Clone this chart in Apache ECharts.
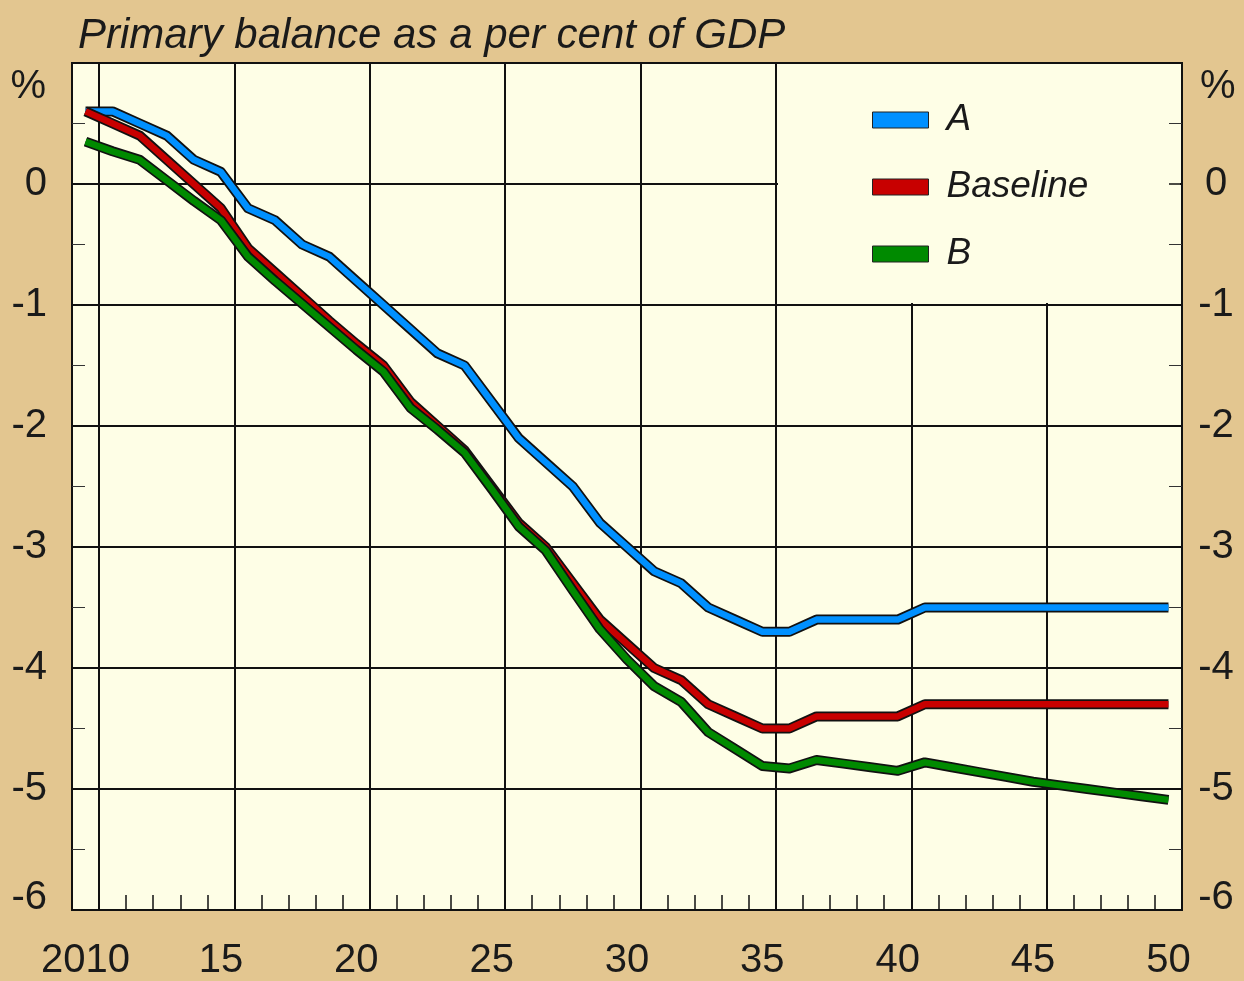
<!DOCTYPE html>
<html>
<head>
<meta charset="utf-8">
<script src="https://cdn.jsdelivr.net/npm/echarts@6/dist/echarts.min.js"></script>
<style>
  html, body { margin: 0; padding: 0; background: #e3c690; }
  #main { width: 1244px; height: 981px; }
</style>
</head>
<body>
<div id="main"></div>
<script>
let years = [2010, 2011, 2012, 2013, 2014, 2015, 2016, 2017, 2018, 2019,
             2020, 2021, 2022, 2023, 2024, 2025, 2026, 2027, 2028, 2029,
             2030, 2031, 2032, 2033, 2034, 2035, 2036, 2037, 2038, 2039,
             2040, 2041, 2042, 2043, 2044, 2045, 2046, 2047, 2048, 2049, 2050];

let seriesA = [0.6, 0.6, 0.5, 0.4, 0.2, 0.1, -0.2, -0.3, -0.5, -0.6,
               -0.8, -1.0, -1.2, -1.4, -1.5, -1.8, -2.1, -2.3, -2.5, -2.8,
               -3.0, -3.2, -3.3, -3.5, -3.6, -3.7, -3.7, -3.6, -3.6, -3.6,
               -3.6, -3.5, -3.5, -3.5, -3.5, -3.5, -3.5, -3.5, -3.5, -3.5, -3.5];

let seriesBaseline = [0.6, 0.5, 0.4, 0.2, 0.0, -0.2, -0.53, -0.73, -0.93, -1.13,
                      -1.32, -1.5, -1.8, -2.0, -2.2, -2.5, -2.8, -3.0, -3.3, -3.6,
                      -3.8, -4.0, -4.1, -4.3, -4.4, -4.5, -4.5, -4.4, -4.4, -4.4,
                      -4.4, -4.3, -4.3, -4.3, -4.3, -4.3, -4.3, -4.3, -4.3, -4.3, -4.3];

let seriesB = [0.35, 0.27, 0.2, 0.03, -0.14, -0.3, -0.6, -0.8, -0.99, -1.18,
               -1.37, -1.55, -1.85, -2.03, -2.22, -2.52, -2.83, -3.03, -3.36, -3.68,
               -3.93, -4.15, -4.28, -4.53, -4.67, -4.81, -4.83, -4.76, -4.79, -4.82,
               -4.85, -4.78, -4.82, -4.86, -4.9, -4.94, -4.97, -5.0, -5.03, -5.06, -5.09];

let yTicks = [-6, -5, -4, -3, -2, -1, 0, 1];

let font = "'Liberation Sans', Arial, sans-serif";
let ink = '#1a1a1a';
let cream = '#fefee6';

let lines = [
  { name: 'A', data: seriesA, color: '#0090ff' },
  { name: 'Baseline', data: seriesBaseline, color: '#c80000' },
  { name: 'B', data: seriesB, color: '#008a00' }
];

function buildSeries() {
  let out = [];
  lines.forEach(item => {
    // black outline under each coloured line
    out.push({
      name: item.name + ' outline',
      type: 'line',
      data: item.data,
      symbol: 'none',
      silent: true,
      z: 3,
      lineStyle: { color: '#111', width: 10, join: 'round' }
    });
    out.push({
      name: item.name,
      type: 'line',
      data: item.data,
      symbol: 'none',
      z: 3,
      itemStyle: { color: item.color },
      lineStyle: { color: item.color, width: 6.5, join: 'round' }
    });
  });
  return out;
}

function yLabel(v) {
  if (v === yTicks[yTicks.length - 1]) return '';
  if (v === yTicks[0]) return '{up|' + v + '}';
  return String(v);
}

let labelRich = {
  up: { fontSize: 40, fontFamily: font, color: ink, padding: [0, 0, 24, 0] }
};

function initChart() {
  var myChart = echarts.init(document.getElementById('main'));
  var option = {
    backgroundColor: '#e3c690',
    animation: false,
    title: {
      text: 'Primary balance as a per cent of GDP',
      left: 73,
      top: 10,
      textStyle: { fontFamily: font, fontStyle: 'italic', fontWeight: 'normal', fontSize: 42, color: ink }
    },
    legend: {
      data: ['A', 'Baseline', 'B'],
      orient: 'vertical',
      left: 872,
      top: 100,
      padding: 0,
      icon: 'rect',
      itemWidth: 56,
      itemHeight: 16,
      itemGap: 27,
      z: 6,
      itemStyle: { borderColor: '#222', borderWidth: 1 },
      textStyle: { fontFamily: font, fontStyle: 'italic', fontSize: 37, lineHeight: 40, color: ink, padding: [0, 0, 0, 13] }
    },
    graphic: [
      {
        // cream panel behind the legend hides the grid there
        type: 'rect',
        z: 1,
        shape: { x: 778, y: 64, width: 402, height: 239 },
        style: { fill: cream }
      }
    ],
    grid: {
      left: 72,
      right: 62,
      top: 63,
      bottom: 66,
      show: true,
      backgroundColor: cream,
      borderColor: '#111',
      borderWidth: 2
    },
    xAxis: {
      type: 'category',
      data: years,
      boundaryGap: true,
      z: 0,
      axisLine: { show: false, onZero: false },
      axisTick: { show: true, inside: true, length: 15, interval: 0, lineStyle: { color: '#111', width: 1.5 } },
      axisLabel: {
        interval: (i) => i % 5 === 0,
        formatter: (v, i) => i === 0 ? String(v) : String(v).slice(-2),
        margin: 31,
        fontFamily: font,
        fontSize: 40,
        color: ink
      },
      splitLine: {
        show: true,
        interval: (i) => i % 5 === 1,
        lineStyle: { color: '#111', width: 2 }
      }
    },
    yAxis: [
      {
        type: 'value',
        min: -6,
        max: 1,
        interval: 1,
        z: 0,
        name: '%',
        nameLocation: 'end',
        nameGap: -24,
        nameTextStyle: { fontFamily: font, fontSize: 40, color: ink, align: 'right', verticalAlign: 'middle', padding: [0, 26, 0, 0] },
        axisLine: { show: false },
        axisTick: { show: true, inside: true, length: 13, lineStyle: { color: '#111', width: 1.5 } },
        minorTick: { show: true, splitNumber: 2, length: 13, lineStyle: { color: '#333', width: 1 } },
        axisLabel: { formatter: yLabel, rich: labelRich, margin: 25, fontFamily: font, fontSize: 40, color: ink },
        splitLine: { show: true, lineStyle: { color: '#111', width: 2 } }
      },
      {
        type: 'value',
        position: 'right',
        min: -6,
        max: 1,
        interval: 1,
        z: 2,
        name: '%',
        nameLocation: 'end',
        nameGap: -24,
        nameTextStyle: { fontFamily: font, fontSize: 40, color: ink, align: 'left', verticalAlign: 'middle', padding: [0, 0, 0, 18] },
        axisLine: { show: false },
        axisTick: { show: true, inside: true, length: 13, lineStyle: { color: '#111', width: 1.5 } },
        minorTick: { show: true, splitNumber: 2, length: 13, lineStyle: { color: '#333', width: 1 } },
        axisLabel: { formatter: yLabel, rich: labelRich, margin: 34, align: 'center', fontFamily: font, fontSize: 40, color: ink },
        splitLine: { show: false }
      }
    ],
    series: buildSeries()
  };
  myChart.setOption(option);
}

initChart();
</script>
</body>
</html>
